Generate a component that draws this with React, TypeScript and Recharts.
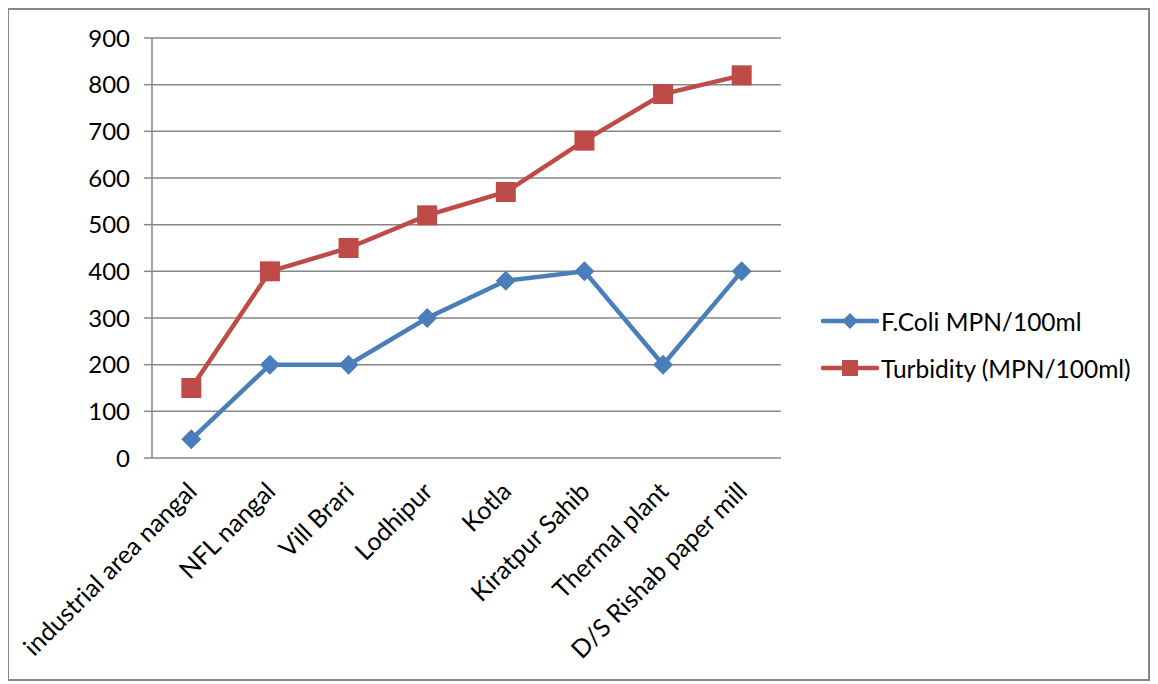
import { LineChart, Line, XAxis, YAxis, CartesianGrid, Legend } from 'recharts';

const sites = [
  'industrial area nangal',
  'NFL nangal',
  'Vill Brari',
  'Lodhipur',
  'Kotla',
  'Kiratpur Sahib',
  'Thermal plant',
  'D/S Rishab paper mill',
];
const fColi = [40, 200, 200, 300, 380, 400, 200, 400];
const turbidity = [150, 400, 450, 520, 570, 680, 780, 820];
const yTicks = [0, 100, 200, 300, 400, 500, 600, 700, 800, 900];
const bandEdges = [0, 1, 2, 3, 4, 5, 6, 7, 8];

const BLUE = '#4a7ebb';
const RED = '#be4b48';
const GRID = '#868686';
const FONT = 'Lato, "Open Sans", sans-serif';

const data = sites.map((site, i) => ({
  site,
  fColi: fColi[i],
  turbidity: turbidity[i],
}));

function Diamond(props: any) {
  const { cx, cy } = props;
  if (cx == null || cy == null) return null;
  const r = 10;
  return (
    <path
      d={`M${cx},${cy - r} L${cx + r},${cy} L${cx},${cy + r} L${cx - r},${cy} Z`}
      fill={BLUE}
    />
  );
}

function Square(props: any) {
  const { cx, cy } = props;
  if (cx == null || cy == null) return null;
  const r = 10;
  return <rect x={cx - r} y={cy - r} width={r * 2} height={r * 2} fill={RED} />;
}

function SiteTick(props: any) {
  const { x, y, payload } = props;
  return (
    <g transform={`translate(${x + 7},${y + 27})`}>
      <text
        x={0}
        y={0}
        textAnchor="end"
        transform="rotate(-45)"
        fontSize={25}
        fontFamily={FONT}
        fill="#000"
      >
        {payload.value}
      </text>
    </g>
  );
}

function LegendBox() {
  const items = [
    { label: 'F.Coli MPN/100ml', color: BLUE, shape: 'diamond' },
    { label: 'Turbidity (MPN/100ml)', color: RED, shape: 'square' },
  ];
  return (
    <div style={{ fontFamily: FONT, fontSize: 24.5, color: '#000', width: 320, paddingLeft: 7, boxSizing: 'border-box' }}>
      {items.map((it) => (
        <div
          key={it.label}
          style={{ display: 'flex', alignItems: 'center', height: 47 }}
        >
          <svg width={58} height={20} style={{ marginRight: 2, flex: 'none' }}>
            <line x1={2} y1={10} x2={56} y2={10} stroke={it.color} strokeWidth={4.5} strokeLinecap="round" />
            {it.shape === 'diamond' ? (
              <path d="M29,2 L37,10 L29,18 L21,10 Z" fill={it.color} />
            ) : (
              <rect x={21} y={2} width={16} height={16} fill={it.color} />
            )}
          </svg>
          <span style={{ whiteSpace: 'nowrap' }}>{it.label}</span>
        </div>
      ))}
    </div>
  );
}

export default function App() {
  return (
    <div
      style={{
        position: 'relative',
        width: 1143,
        height: 673,
        boxSizing: 'border-box',
        border: `2px solid ${GRID}`,
        marginLeft: -1,
        background: '#fff',
      }}
    >
      <LineChart
        width={1139}
        height={669}
        data={data}
        margin={{ top: 28, right: 47, bottom: 21, left: 0 }}
      >
        <CartesianGrid horizontal vertical={false} stroke={GRID} strokeWidth={1.5} />
        <XAxis
          dataKey="site"
          scale="band"
          interval={0}
          height={200}
          axisLine={false}
          tickLine={false}
          tick={<SiteTick />}
        />
        <XAxis
          xAxisId="edges"
          type="number"
          domain={[0, 8]}
          ticks={bandEdges}
          allowDataOverflow
          height={0}
          tickSize={8}
          tickFormatter={() => ''}
          axisLine={{ stroke: GRID, strokeWidth: 1.5 }}
          tickLine={{ stroke: GRID, strokeWidth: 1.5 }}
        />
        <YAxis
          domain={[0, 900]}
          ticks={yTicks}
          interval={0}
          width={143}
          tickSize={8}
          tickMargin={14}
          axisLine={{ stroke: GRID, strokeWidth: 1.5 }}
          tickLine={{ stroke: GRID, strokeWidth: 1.5 }}
          tick={{ fontSize: 24, fontFamily: FONT, fill: '#000' }}
        />
        <Legend
          layout="vertical"
          align="right"
          verticalAlign="middle"
          wrapperStyle={{ right: 14 }}
          content={<LegendBox />}
        />
        <Line
          type="linear"
          dataKey="fColi"
          name="F.Coli MPN/100ml"
          stroke={BLUE}
          strokeWidth={4.5}
          dot={<Diamond />}
          activeDot={false}
          isAnimationActive={false}
        />
        <Line
          type="linear"
          dataKey="turbidity"
          name="Turbidity (MPN/100ml)"
          stroke={RED}
          strokeWidth={4.5}
          dot={<Square />}
          activeDot={false}
          isAnimationActive={false}
        />
      </LineChart>
    </div>
  );
}
